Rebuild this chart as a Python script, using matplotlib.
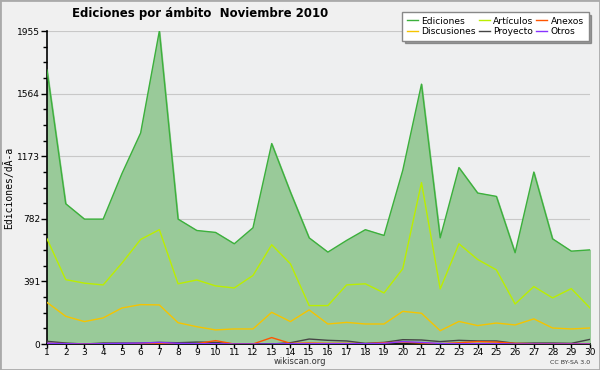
import matplotlib
matplotlib.use("Agg")
import matplotlib.pyplot as plt
from matplotlib.patches import Rectangle
from matplotlib.ticker import MultipleLocator, FixedLocator

days = list(range(1, 31))
ediciones = [1711, 876, 780, 780, 1064, 1318, 1955, 780, 709, 697,
             626, 726, 1252, 949, 663, 574, 647, 714, 678, 1085,
             1623, 663, 1102, 943, 922, 570, 1074, 657, 580, 588]
articulos = [657, 402, 380, 369, 505, 653, 714, 376, 400, 363,
             350, 428, 620, 501, 240, 240, 369, 376, 319, 470,
             1008, 344, 626, 528, 463, 250, 359, 288, 346, 225]
discusiones = [260, 173, 140, 163, 225, 246, 244, 133, 108, 88,
               94, 94, 198, 140, 213, 125, 135, 125, 125, 204,
               192, 83, 141, 115, 131, 119, 157, 100, 94, 100]
anexos = [4, 2, 0, 2, 2, 2, 2, 2, 2, 21,
          0, 0, 40, 4, 6, 4, 4, 2, 8, 12,
          6, 2, 8, 15, 12, 4, 2, 2, 2, 2]
proyecto = [17, 6, 0, 6, 6, 6, 10, 8, 12, 10,
            0, 0, 0, 8, 31, 23, 19, 4, 10, 27,
            25, 15, 23, 19, 19, 4, 6, 6, 4, 29]
otros = [5, 2, 0, 2, 4, 6, 10, 4, 2, 2,
         0, 0, 0, 2, 2, 2, 2, 2, 4, 15,
         10, 3, 2, 2, 2, 0, 0, 0, 0, 0]
yticks = [0, 391, 782, 1173, 1564, 1955]

fig = plt.figure(figsize=(6.0, 3.7), dpi=100, facecolor="#f0f0f0")
ax = fig.add_axes([47/600, 26/370, 543/600, 313/370])
ax.set_facecolor("#eeeff0")

ax.fill_between(days, ediciones, 0, color="#99ca99", zorder=2)
ax.plot(days, ediciones, color="#3cb03c", lw=1.0, label="Ediciones", zorder=3)
ax.plot(days, discusiones, color="#f5c400", lw=1.0, label="Discusiones", zorder=3)
ax.plot(days, articulos, color="#bbee00", lw=1.0, label="Artículos", zorder=3)
ax.plot(days, proyecto, color="#444444", lw=1.0, label="Proyecto", zorder=3)
ax.plot(days, anexos, color="#ff5500", lw=1.0, label="Anexos", zorder=3)
ax.plot(days, otros, color="#8833ff", lw=1.0, label="Otros", zorder=3)

ax.set_xlim(1, 30)
ax.set_ylim(0, 1955)
ax.set_xticks(days)
ax.set_xticklabels([str(d) for d in days], fontsize=6.5)
ax.yaxis.set_major_locator(FixedLocator(yticks))
ax.set_yticklabels([str(v) for v in yticks], fontsize=6.5)
ax.yaxis.set_minor_locator(MultipleLocator(1955/20))
ax.tick_params(axis="x", which="major", direction="out", length=3, width=1, pad=0)
ax.tick_params(axis="y", which="major", direction="out", length=4, width=1, pad=1)
ax.tick_params(axis="y", which="minor", direction="out", length=3, width=1)
ax.grid(axis="y", color="#c8c8c8", lw=0.8, zorder=1)
ax.set_axisbelow(True)
for s in ["top", "right"]:
    ax.spines[s].set_visible(False)
ax.spines["left"].set_linewidth(1.2)
ax.spines["bottom"].set_linewidth(1.2)

ax.set_ylabel("Ediciones/dÃ-a", fontsize=7, family="DejaVu Sans Mono", labelpad=2)

fig.text(200/600, 1 - 14/370, "Ediciones por ámbito  Noviembre 2010",
         ha="center", va="center", fontsize=8.5, fontweight="bold")
fig.text(300/600, 1 - 362/370, "wikiscan.org", ha="center", va="center", fontsize=6, color="#333333")
fig.text(590/600, 1 - 363/370, "CC BY-SA 3.0", ha="right", va="center", fontsize=4.5, color="#333333")

leg = ax.legend(ncol=3, loc="upper right", bbox_to_anchor=(1.006, 1.075), fontsize=6.6,
                frameon=True, fancybox=False, shadow=True, handlelength=1.2,
                handletextpad=0.4, columnspacing=0.3, borderpad=0.5, labelspacing=0.15)
leg.get_frame().set_edgecolor("#888888")
leg.get_frame().set_facecolor("white")
leg.set_zorder(10)

fig.patches.append(Rectangle((0, 0), 1, 1, transform=fig.transFigure, fill=False,
                             edgecolor="#aaaaaa", lw=2))

fig.savefig("out.png", dpi=100, facecolor=fig.get_facecolor())
